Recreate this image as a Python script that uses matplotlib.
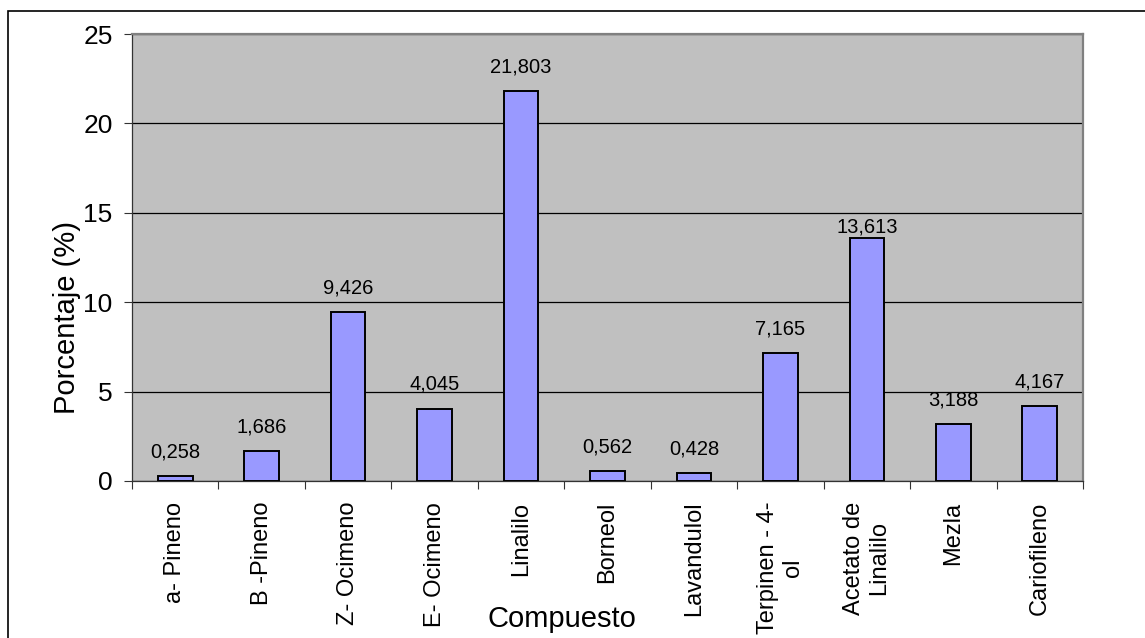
import matplotlib
matplotlib.use('Agg')
import matplotlib.pyplot as plt
from matplotlib.patches import Rectangle

plt.rcParams['font.family'] = ['Liberation Sans', 'DejaVu Sans']

# composition of the essential oil
compuestos = ['a- Pineno', 'B -Pineno', 'Z- Ocimeno', 'E- Ocimeno', 'Linalilo',
              'Borneol', 'Lavandulol', 'Terpinen - 4-\nol', 'Acetato de\nLinalilo',
              'Mezla', 'Cariofileno']
porcentaje = [0.258, 1.686, 9.426, 4.045, 21.803, 0.562, 0.428, 7.165, 13.613,
              3.188, 4.167]
y_ticks = [0, 5, 10, 15, 20, 25]

W, H = 1145, 638
fig = plt.figure(figsize=(W / 100, H / 100), dpi=100)
fig.patch.set_facecolor('white')

# plot area in pixels: left 132, right 1083, top 34, bottom 481
ax = fig.add_axes([132 / W, 1 - 481 / H, (1083 - 132) / W, (481 - 34) / H])
ax.set_facecolor('#C0C0C0')

x = list(range(len(compuestos)))
ax.bar(x, porcentaje, width=0.4, color='#9999FF', edgecolor='black',
       linewidth=1.4, zorder=3)

ax.set_xlim(-0.5, len(compuestos) - 0.5)
ax.set_ylim(0, 25)
ax.set_yticks(y_ticks)
ax.yaxis.grid(True, color='black', linewidth=0.9)
ax.set_axisbelow(True)

# labels under each bar, tick marks between categories
ax.set_xticks(x)
ax.set_xticklabels(compuestos, rotation=90, ha='center', va='top',
                   multialignment='center')
ax.set_xticks([i - 0.5 for i in range(len(compuestos) + 1)], minor=True)
ax.tick_params(axis='x', which='major', length=0, pad=15, labelsize=17)
ax.tick_params(axis='x', which='minor', length=5.5, width=0.8,
               color='#333333')
ax.tick_params(axis='y', length=6, width=0.8, color='#333333', labelsize=19,
               pad=8)

for side in ['top', 'right']:
    ax.spines[side].set_color('#808080')
    ax.spines[side].set_linewidth(1.6)
for side in ['left', 'bottom']:
    ax.spines[side].set_color('#333333')
    ax.spines[side].set_linewidth(0.9)

# value labels, comma as decimal separator
nudge = {8: 3.6}
for i, v in enumerate(porcentaje):
    ax.annotate('{:.3f}'.format(v).replace('.', ','), xy=(i, v),
                xytext=(0, nudge.get(i, 13.5)), textcoords='offset points',
                ha='center', va='baseline', fontsize=14.5)

fig.text(67 / W, 1 - 317 / H, 'Porcentaje (%)', rotation=90, fontsize=21,
         ha='center', va='center')
fig.text(562 / W, 1 - 627 / H, 'Compuesto', fontsize=21, ha='center',
         va='baseline')

# chart frame
fig.patches.append(Rectangle((8 / W, -0.1), 1.2, 1.1 - 11.5 / H,
                             transform=fig.transFigure, fill=False,
                             edgecolor='black', linewidth=1.2))

fig.savefig('out.png', dpi=100)
